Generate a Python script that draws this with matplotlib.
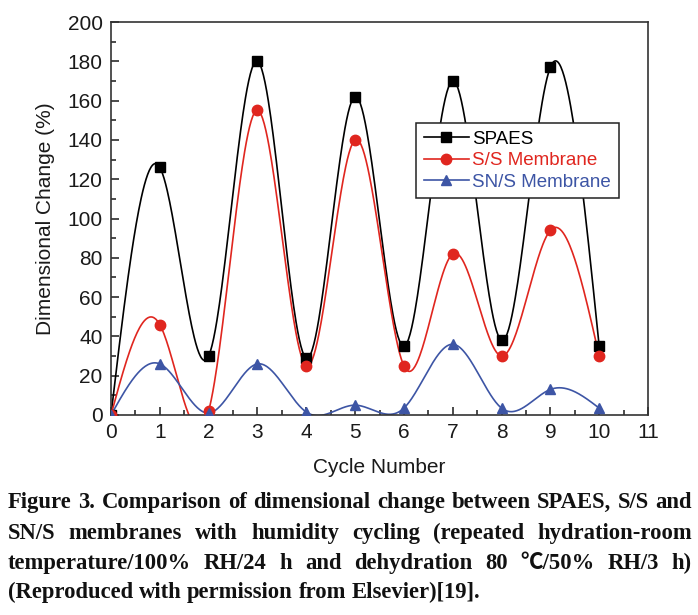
import numpy as np
import matplotlib
matplotlib.use('Agg')
import matplotlib.pyplot as plt
from matplotlib.ticker import MultipleLocator

plt.rcParams['font.family'] = ['Liberation Sans', 'DejaVu Sans']

cycles = [0, 1, 2, 3, 4, 5, 6, 7, 8, 9, 10]
spaes = [0, 126, 30, 180, 29, 162, 35, 170, 38, 177, 35]
ss_membrane = [0, 46, 2, 155, 25, 140, 25, 82, 30, 94, 30]
sns_membrane = [0, 26, 1, 26, 1.5, 5, 3.5, 36, 3.5, 13, 3.5]

series = [
    ('SPAES', spaes, 'black', 's'),
    ('S/S Membrane', ss_membrane, '#e0261f', 'o'),
    ('SN/S Membrane', sns_membrane, '#3d55a5', '^'),
]

caption_lines = [
    "Figure 3. Comparison of dimensional change between SPAES, S/S and",
    "SN/S membranes with humidity cycling (repeated hydration-room",
    "temperature/100% RH/24 h and dehydration 80 \u2103/50% RH/3 h)",
    "(Reproduced with permission from Elsevier)[19].",
]


def natural_spline(x, y, n=600):
    # natural cubic spline, the same smooth join the original plot uses
    x = np.asarray(x, float)
    y = np.asarray(y, float)
    m = len(x)
    h = np.diff(x)
    A = np.zeros((m, m))
    b = np.zeros(m)
    A[0, 0] = A[-1, -1] = 1
    for i in range(1, m - 1):
        A[i, i - 1] = h[i - 1]
        A[i, i] = 2 * (h[i - 1] + h[i])
        A[i, i + 1] = h[i]
        b[i] = 6 * ((y[i + 1] - y[i]) / h[i] - (y[i] - y[i - 1]) / h[i - 1])
    M = np.linalg.solve(A, b)
    xs = np.linspace(x[0], x[-1], n)
    idx = np.clip(np.searchsorted(x, xs) - 1, 0, m - 2)
    x0, x1 = x[idx], x[idx + 1]
    hh = x1 - x0
    t0, t1 = x1 - xs, xs - x0
    ys = (M[idx] * t0**3 + M[idx + 1] * t1**3) / (6 * hh) \
        + (y[idx] / hh - M[idx] * hh / 6) * t0 \
        + (y[idx + 1] / hh - M[idx + 1] * hh / 6) * t1
    return xs, ys


W, H = 698, 615
fig = plt.figure(figsize=(W / 100, H / 100), dpi=100)
ax = fig.add_axes([111 / W, 1 - 415 / H, 537 / W, 393 / H])

handles = []
for name, vals, color, mk in series:
    xs, ys = natural_spline(cycles, vals)
    ax.plot(xs, ys, color=color, lw=1.2, zorder=2)
    ax.plot(cycles, vals, linestyle='none', marker=mk, color=color,
            markersize=7.5, zorder=3)
    h, = ax.plot([], [], color=color, lw=1.2, marker=mk, markersize=7.5)
    handles.append(h)

ax.set_xlim(0, 11)
ax.set_ylim(0, 200)
ax.xaxis.set_major_locator(MultipleLocator(1))
ax.xaxis.set_minor_locator(MultipleLocator(0.5))
ax.yaxis.set_major_locator(MultipleLocator(20))
ax.yaxis.set_minor_locator(MultipleLocator(10))
ax.tick_params(which='both', direction='in', top=False, right=False,
               labelsize=15, colors='#1a1a1a')
ax.tick_params(which='major', length=6, width=1.1, pad=6)
ax.tick_params(which='minor', length=3.5, width=1.1)
for s in ax.spines.values():
    s.set_linewidth(1.2)
    s.set_color('#333333')

ax.set_xlabel('Cycle Number', fontsize=15, labelpad=11, color='#1a1a1a')
ax.set_ylabel('Dimensional Change (%)', fontsize=15, labelpad=9, color='#1a1a1a')

leg = ax.legend(handles, [s[0] for s in series], loc='upper left',
                bbox_to_anchor=(0.568, 0.742), fontsize=13.5, fancybox=False,
                edgecolor='#222222', framealpha=1, handlelength=2.4,
                handletextpad=0.2, labelspacing=0.22, borderpad=0.4,
                borderaxespad=0)
leg.get_frame().set_linewidth(1.1)
for txt, (_, _, color, _) in zip(leg.get_texts(), series):
    txt.set_color(color)

# caption: justified bold serif text under the chart
renderer = fig.canvas.get_renderer()
cap_font = dict(family=['Liberation Serif', 'Noto Sans CJK SC', 'DejaVu Sans'],
                weight='bold', color='#111111')
left, right = 8, 692
line_y = [508, 539, 569, 598]


def text_width(s, size):
    t = fig.text(0, 0, s, fontsize=size, **cap_font)
    w = t.get_window_extent(renderer).width
    t.remove()
    return w


# size the caption so the first line just fills the width
size = 14.0 * (right - left) / text_width(caption_lines[0], 14.0) * 0.99

for k, line in enumerate(caption_lines):
    words = line.split(' ')
    widths = [text_width(w, size) for w in words]
    space = text_width('a a', size) - 2 * text_width('a', size)
    if k < len(caption_lines) - 1:
        gap = (right - left - sum(widths)) / (len(words) - 1)
    else:
        gap = space
    x = left
    for w, wd in zip(words, widths):
        fig.text(x / W, 1 - line_y[k] / H, w, fontsize=size, va='baseline',
                 ha='left', **cap_font)
        x += wd + gap

fig.savefig('out.png', dpi=100)
